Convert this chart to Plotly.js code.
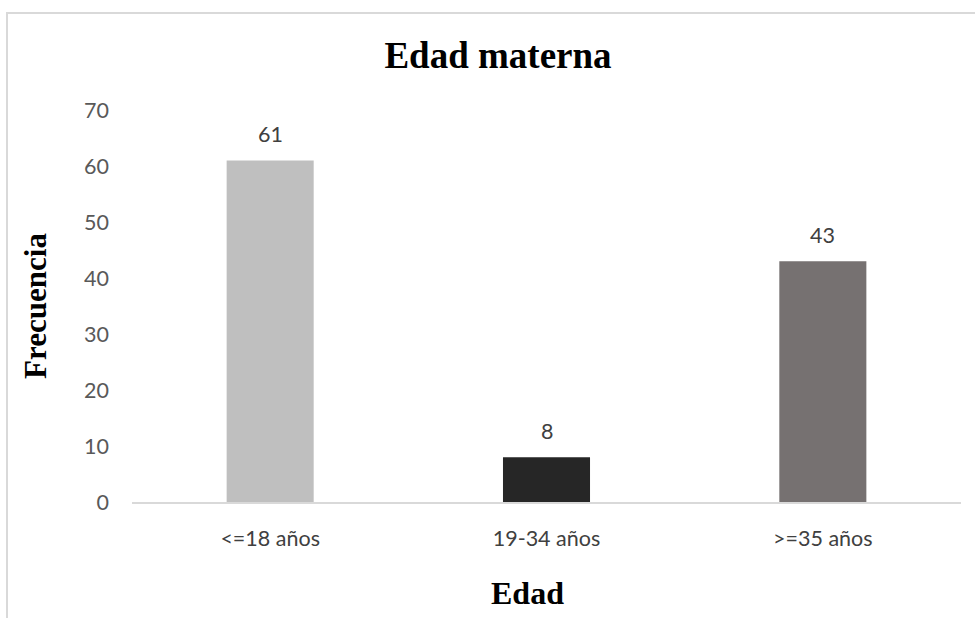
<!DOCTYPE html>
<html>
<head>
<meta charset="utf-8">
<script src="https://cdn.plot.ly/plotly-3.0.1.min.js"></script>
<style>
  html, body { margin: 0; padding: 0; background: #ffffff; overflow: hidden; }
  #chart { width: 975px; height: 618px; }
</style>
</head>
<body>
<div id="chart"></div>
<script>
// Maternal age groups and their frequencies
const categories = ['<=18 años', '19-34 años', '>=35 años'];
const frecuencia = [61, 8, 43];
const barColors = ['#bfbfbf', '#262626', '#767171'];
const yTicks = [0, 10, 20, 30, 40, 50, 60, 70];

const sansFamily = 'Lato, "Open Sans", sans-serif';
const serifBold = 'Liberation Serif, "Times New Roman", serif';

const trace = {
  type: 'bar',
  x: categories,
  y: frecuencia,
  marker: { color: barColors, line: { width: 0 } },
  hoverinfo: 'skip'
};

// Value labels above each bar
const valueLabels = categories.map((c, i) => ({
  x: c,
  y: frecuencia[i],
  xref: 'x',
  yref: 'y',
  text: String(frecuencia[i]),
  showarrow: false,
  yanchor: 'bottom',
  yshift: 11,
  font: { family: sansFamily, size: 21.5, color: '#404040' }
}));

// x-axis title, placed below the category labels
const xTitle = {
  text: '<b>Edad</b>',
  xref: 'paper',
  yref: 'paper',
  x: (527 - 132) / 829,
  y: (502 - 593) / 392,
  xanchor: 'center',
  yanchor: 'middle',
  showarrow: false,
  font: { family: serifBold, size: 32, color: '#000000' }
};

const layout = {
  width: 975,
  height: 618,
  paper_bgcolor: '#ffffff',
  plot_bgcolor: '#ffffff',
  margin: { l: 132, r: 14, t: 110, b: 116 },
  showlegend: false,
  bargap: 0.685,
  title: {
    text: '<b>Edad materna</b>',
    font: { family: serifBold, size: 37, color: '#000000' },
    x: 498 / 975,
    xanchor: 'center',
    xref: 'container',
    y: 1 - 55 / 618,
    yref: 'container',
    yanchor: 'middle'
  },
  xaxis: {
    type: 'category',
    showgrid: false,
    zeroline: false,
    showline: true,
    linecolor: '#d9d9d9',
    linewidth: 2,
    ticks: '',
    tickfont: { family: sansFamily, size: 21.5, color: '#404040' },
    ticklabelstandoff: 16,
    automargin: false
  },
  yaxis: {
    range: [0, 70],
    tickvals: yTicks,
    showgrid: false,
    zeroline: false,
    showline: false,
    ticks: '',
    tickfont: { family: sansFamily, size: 21.5, color: '#595959' },
    ticklabelstandoff: 22,
    automargin: false,
    title: {
      text: '<b>Frecuencia</b>',
      font: { family: serifBold, size: 31, color: '#000000' },
      standoff: 28
    }
  },
  annotations: valueLabels.concat([xTitle]),
  shapes: [{
    // chart-area frame (light grey border)
    type: 'rect',
    xref: 'paper',
    yref: 'paper',
    x0: (7 - 132) / 829,
    x1: (1000 - 132) / 829,
    y0: (502 - 700) / 392,
    y1: (502 - 13) / 392,
    line: { color: '#d9d9d9', width: 2 },
    fillcolor: 'rgba(0,0,0,0)',
    layer: 'below'
  }],
  hovermode: false
};

Plotly.newPlot('chart', [trace], layout, { displayModeBar: false, staticPlot: true });
</script>
</body>
</html>
